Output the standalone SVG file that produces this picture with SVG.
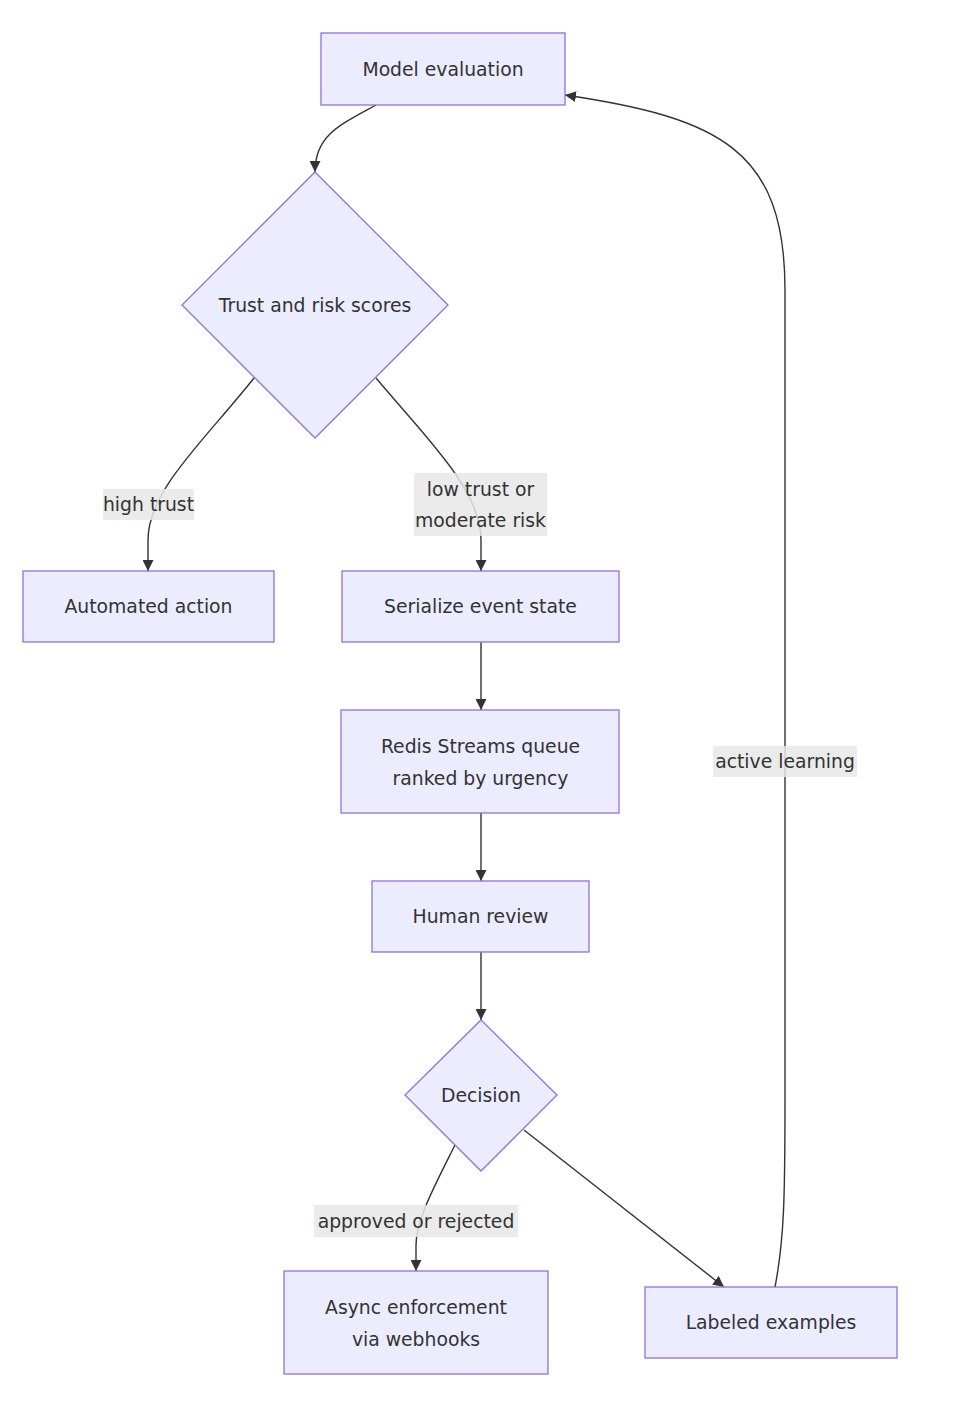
<svg xmlns="http://www.w3.org/2000/svg" width="954" height="1402" viewBox="0 0 954 1402">
<style>
.node rect,.node polygon{fill:#ECECFF;stroke:#9370DB;stroke-width:1.3}
text{font-family:"DejaVu Sans",sans-serif;font-size:18.8px;fill:#333;text-anchor:middle;dominant-baseline:central}
.edge{fill:none;stroke:#333;stroke-width:1.4}
.lbl{fill:#e8e8e8;fill-opacity:0.85}
</style>
<defs>
<marker id="arr" viewBox="0 0 10 10" refX="10" refY="5" markerWidth="11" markerHeight="11" markerUnits="userSpaceOnUse" orient="auto">
<path d="M0,0 L10,5 L0,10 z" fill="#333"/>
</marker>
</defs>
<rect width="954" height="1402" fill="#fff"/>
<g id="connectors">
<path class="edge" marker-end="url(#arr)" d="M376,105 C340,125 315,135 315,172"/>
<path class="edge" marker-end="url(#arr)" d="M254,378 C205,440 148,490 148,540 L148,571"/>
<path class="edge" marker-end="url(#arr)" d="M376,378 C428,440 481,490 481,540 L481,571"/>
<path class="edge" marker-end="url(#arr)" d="M481,642 L481,710"/>
<path class="edge" marker-end="url(#arr)" d="M481,813 L481,881"/>
<path class="edge" marker-end="url(#arr)" d="M481,952 L481,1020"/>
<path class="edge" marker-end="url(#arr)" d="M455,1145 C435,1185 416,1220 416,1245 L416,1271"/>
<path class="edge" marker-end="url(#arr)" d="M524,1130 L724,1287"/>
<path class="edge" marker-end="url(#arr)" d="M775,1287 C784,1240 785,1200 785,1100 L785,290 C785,150 720,118 565,95"/>
<rect class="lbl" x="103" y="489" width="91" height="31"/>
<text x="148.5" y="504.5">high trust</text>
<rect class="lbl" x="414" y="473" width="133" height="63"/>
<text x="480.5" y="489">low trust or</text>
<text x="480.5" y="520.5">moderate risk</text>
<rect class="lbl" x="314" y="1205" width="204" height="32"/>
<text x="416" y="1221">approved or rejected</text>
<rect class="lbl" x="713" y="746" width="144" height="31"/>
<text x="785" y="761.5">active learning</text>
</g>
<g id="model" class="node"><rect x="321" y="33" width="244" height="72"/><text x="443" y="69">Model evaluation</text></g>
<g id="trust" class="node"><polygon points="315,172 448,305 315,438 182,305"/><text x="315" y="305">Trust and risk scores</text></g>
<g id="auto" class="node"><rect x="23" y="571" width="251" height="71"/><text x="148.5" y="606.5">Automated action</text></g>
<g id="serialize" class="node"><rect x="342" y="571" width="277" height="71"/><text x="480.5" y="606.5">Serialize event state</text></g>
<g id="redis" class="node"><rect x="341" y="710" width="278" height="103"/><text x="480.5" y="746">Redis Streams queue</text><text x="480.5" y="778">ranked by urgency</text></g>
<g id="human" class="node"><rect x="372" y="881" width="217" height="71"/><text x="480.5" y="916.5">Human review</text></g>
<g id="decision" class="node"><polygon points="481,1020 557,1095 481,1171 405,1095"/><text x="481" y="1095.5">Decision</text></g>
<g id="async" class="node"><rect x="284" y="1271" width="264" height="103"/><text x="416" y="1307">Async enforcement</text><text x="416" y="1339">via webhooks</text></g>
<g id="labeled" class="node"><rect x="645" y="1287" width="252" height="71"/><text x="771" y="1322.5">Labeled examples</text></g>
</svg>
